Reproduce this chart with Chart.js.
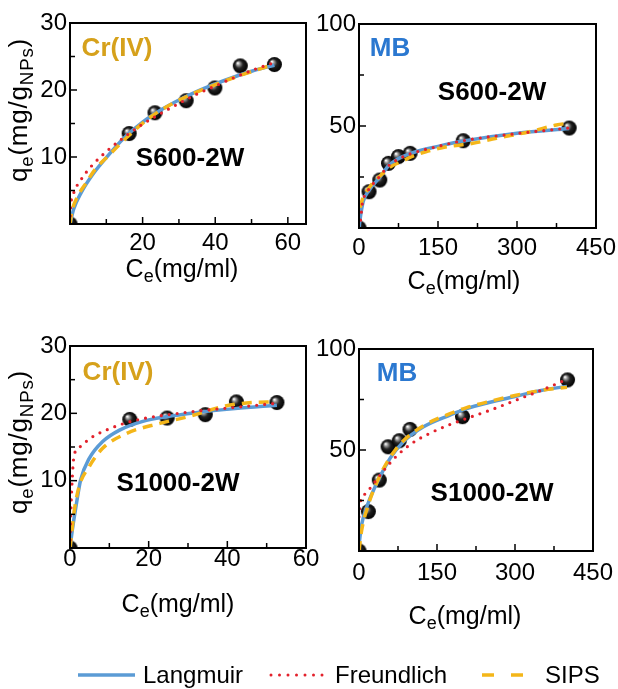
<!DOCTYPE html>
<html>
<head>
<meta charset="utf-8">
<script src="https://cdn.jsdelivr.net/npm/chart.js@4.4.1/dist/chart.umd.min.js"></script>
<style>
body{margin:0;width:618px;height:689px;background:#fff;position:relative;overflow:hidden;font-family:"Liberation Sans",Arial,sans-serif;}
canvas{position:absolute;left:0;top:0;}
.t{position:absolute;white-space:nowrap;color:#000;font-size:25px;line-height:1;transform:translate(-50%,-50%);}
.t sub{font-size:0.72em;vertical-align:-0.3em;line-height:0;}
.rot{transform:translate(-50%,-50%) rotate(-90deg);letter-spacing:0.8px;font-size:26px;}
.b{font-weight:bold;font-size:26px;}
.gold{color:#d6a11b;}
.mb{color:#2b78d0;}
.lg{position:absolute;font-size:24px;line-height:1;white-space:nowrap;transform:translateY(-50%);}
svg{position:absolute;left:0;top:0;}
</style>
</head>
<body>
<canvas id="c1" width="618" height="689"></canvas>
<canvas id="c2" width="618" height="689"></canvas>
<canvas id="c3" width="618" height="689"></canvas>
<canvas id="c4" width="618" height="689"></canvas>

<div class="t rot" style="left:18px;top:110px">q<sub>e</sub>(mg/g<sub>NPs</sub>)</div>
<div class="t rot" style="left:18px;top:442px">q<sub>e</sub>(mg/g<sub>NPs</sub>)</div>
<div class="t" style="left:182px;top:268px">C<sub>e</sub>(mg/ml)</div>
<div class="t" style="left:464px;top:280px">C<sub>e</sub>(mg/ml)</div>
<div class="t" style="left:178px;top:603px">C<sub>e</sub>(mg/ml)</div>
<div class="t" style="left:465px;top:615px">C<sub>e</sub>(mg/ml)</div>

<div class="t b gold" style="left:117px;top:47px">Cr(IV)</div>
<div class="t b" style="left:190px;top:157px">S600-2W</div>
<div class="t b mb" style="left:390px;top:47px">MB</div>
<div class="t b" style="left:492px;top:91px">S600-2W</div>
<div class="t b gold" style="left:118px;top:371px">Cr(IV)</div>
<div class="t b" style="left:178px;top:482px">S1000-2W</div>
<div class="t b mb" style="left:397px;top:372px">MB</div>
<div class="t b" style="left:492px;top:492px">S1000-2W</div>

<svg width="618" height="689">
  <line x1="78" y1="675" x2="135" y2="675" stroke="#5b9bd5" stroke-width="3.5"/>
  <line x1="271" y1="675" x2="323" y2="675" stroke="#e3212b" stroke-width="3" stroke-dasharray="0 8.5" stroke-linecap="round"/>
  <line x1="482" y1="675" x2="540" y2="675" stroke="#f4b619" stroke-width="3.5" stroke-dasharray="12 17"/>
</svg>
<div class="lg" style="left:143px;top:675px">Langmuir</div>
<div class="lg" style="left:335px;top:675px">Freundlich</div>
<div class="lg" style="left:545px;top:675px">SIPS</div>

<script>
// ---- Cr(IV), S600-2W ----
var crS600X = [0, 16.3, 23.4, 32.0, 39.9, 46.9, 56.3];
var crS600Y = [0, 13.5, 16.6, 18.4, 20.3, 23.6, 23.8];
var crS600LangX = [0, 1, 3, 6, 10, 15, 20, 25, 30, 35, 40, 45, 50, 56.3];
var crS600LangY = [0, 2.2, 4.6, 7.2, 9.9, 12.9, 15.2, 17.0, 18.5, 19.8, 20.9, 21.9, 22.8, 23.7];
var crS600FreuX = [0, 0.2, 1, 3, 6, 10, 15, 20, 25, 30, 35, 40, 45, 50, 56.3];
var crS600FreuY = [0, 2.6, 4.6, 6.6, 8.7, 10.8, 13.0, 14.9, 16.5, 18.0, 19.4, 20.6, 21.8, 22.9, 24.1];
var crS600SipsX = [0, 0.5, 2, 4.4, 7, 11, 16, 22, 28, 34, 40, 47, 56];
var crS600SipsY = [0, 1.8, 4.0, 6.1, 8.2, 10.4, 13.1, 15.9, 17.9, 19.5, 20.8, 22.2, 23.8];

// ---- MB, S600-2W ----
var mbS600X = [0, 19, 39.5, 56, 75, 97, 198, 399];
var mbS600Y = [0, 17.8, 23.5, 31.7, 35, 36.6, 42.8, 49];
var mbS600LangX = [0, 3, 8, 19, 40, 56, 75, 97, 150, 198, 300, 399];
var mbS600LangY = [0, 6, 13, 18.5, 25, 30.5, 34, 36.5, 40, 42.6, 46.5, 48.8];
var mbS600FreuX = [0, 3, 6.4, 16, 40, 56, 75, 97, 150, 198, 300, 399];
var mbS600FreuY = [0, 4, 12, 17.8, 25.5, 30.5, 33.8, 36.3, 40, 42.8, 46.3, 49];
var mbS600SipsX = [2, 6, 20, 40, 60, 80, 100, 127, 168, 216, 261, 324, 375, 395];
var mbS600SipsY = [10, 13.7, 20, 25.5, 30, 32.5, 35, 37.4, 39.9, 41.5, 44, 47.2, 50.5, 51.3];

// ---- Cr(IV), S1000-2W ----
var crS1000X = [0, 15.2, 24.7, 34.4, 42.3, 52.6];
var crS1000Y = [0, 19.1, 19.3, 19.8, 21.7, 21.6];
var crS1000LangX = [0, 0.6, 1.5, 2.7, 4.9, 8.3, 12.6, 18.5, 24.5, 32, 42, 52.6];
var crS1000LangY = [0, 2.7, 6.1, 10.1, 13.3, 15.8, 17.5, 18.8, 19.5, 20.1, 20.7, 21.2];
var crS1000FreuX = [0, 0.05, 0.2, 0.6, 1, 2.3, 5.7, 10, 14.3, 18.5, 25, 35, 44, 52.6];
var crS1000FreuY = [0, 2, 5.2, 10.6, 13.6, 14.9, 16.5, 17.7, 18.6, 19.2, 19.8, 20.5, 21, 21.5];
var crS1000SipsX = [0, 0.3, 1, 2.3, 4.9, 8.3, 14.3, 22.8, 30, 39.5, 46.2, 52];
var crS1000SipsY = [0, 1.5, 5.2, 9.1, 12.1, 14.8, 17, 18.5, 19.5, 21.1, 21.6, 21.7];

// ---- MB, S1000-2W ----
var mbS1000X = [0, 18, 39, 56, 77.5, 98, 199, 401];
var mbS1000Y = [0, 19.5, 35.1, 51.6, 54.6, 60.2, 66.5, 84.7];
var mbS1000LangX = [0, 5, 18, 37, 60, 85, 124, 175, 207, 250, 300, 350, 400];
var mbS1000LangY = [3, 13, 24, 35, 46, 54, 61.5, 67.3, 70.5, 73.5, 76.5, 79.5, 81.5];
var mbS1000FreuX = [0, 2, 13, 31, 48, 71, 100, 134, 169, 200, 250, 300, 350, 400];
var mbS1000FreuY = [17, 23.5, 28.5, 34.3, 40, 46.7, 53, 58, 62, 65, 69.5, 74.5, 79.5, 85];
var mbS1000SipsX = [0, 5, 18, 37, 60, 85, 124, 175, 207, 250, 300, 350, 400];
var mbS1000SipsY = [0, 10, 23, 35.5, 46.5, 54.5, 62, 68, 71, 74, 77, 79.5, 81];

var FONT = '"Liberation Sans", Arial, sans-serif';
var BLUE = '#5b9bd5', RED = '#e3212b', YELLOW = '#f4b619';
var W = 618, H = 689, YW = 60, XH = 50;

function pts(xs, ys) {
  return xs.map(function (x, i) { return {x: x, y: ys[i]}; });
}

function sphere(r) {
  var c = document.createElement('canvas');
  c.width = c.height = r * 2 + 2;
  var g = c.getContext('2d');
  var m = r + 1;
  var grad = g.createRadialGradient(m - r * 0.35, m - r * 0.4, r * 0.05, m, m, r);
  grad.addColorStop(0, '#ffffff');
  grad.addColorStop(0.2, '#9a9a9a');
  grad.addColorStop(0.5, '#222222');
  grad.addColorStop(1, '#000000');
  g.fillStyle = grad;
  g.beginPath();
  g.arc(m, m, r, 0, Math.PI * 2);
  g.fill();
  return c;
}
var ball = sphere(7.5);

// box round the plot and the small inward ticks
var framePlugin = {
  id: 'frame',
  afterDatasetsDraw: function (chart) {
    var a = chart.chartArea, ctx = chart.ctx;
    ctx.save();
    ctx.strokeStyle = '#000';
    ctx.lineWidth = 2;
    ctx.strokeRect(a.left, a.top, a.right - a.left, a.bottom - a.top);
    ctx.lineWidth = 1.5;
    var xs = chart.scales.x, ys = chart.scales.y;
    xs.ticks.forEach(function (t) {
      var p = xs.getPixelForValue(t.value);
      if (p <= a.left + 1 || p >= a.right - 1) return;
      var len = t.label !== '' ? 7 : 5;
      ctx.beginPath(); ctx.moveTo(p, a.bottom); ctx.lineTo(p, a.bottom - len); ctx.stroke();
    });
    ys.ticks.forEach(function (t) {
      var p = ys.getPixelForValue(t.value);
      if (p >= a.bottom - 1 || p <= a.top + 1) return;
      var len = t.label !== '' ? 7 : 5;
      ctx.beginPath(); ctx.moveTo(a.left, p); ctx.lineTo(a.left + len, p); ctx.stroke();
    });
    ctx.restore();
  }
};

function panel(id, o) {
  var datasets = [
    {data: pts(o.px, o.py), pointStyle: ball, pointRadius: 7.5, showLine: false, order: 4, clip: 0},
    {data: pts(o.lx, o.ly), showLine: true, borderColor: BLUE, borderWidth: 3.5, pointRadius: 0,
     cubicInterpolationMode: 'monotone', order: 3, clip: 0},
    {data: pts(o.sx, o.sy), showLine: true, borderColor: YELLOW, borderWidth: 3.5, pointRadius: 0,
     borderDash: [10, 7], cubicInterpolationMode: 'monotone', order: 2, clip: 0},
    {data: pts(o.fx, o.fy), showLine: true, borderColor: RED, borderWidth: 3.2, pointRadius: 0,
     borderDash: [0, 8], borderCapStyle: 'round', cubicInterpolationMode: 'monotone', order: 1, clip: 0}
  ];
  function lab(major, zero) {
    return function (v) {
      if (v === 0 && !zero) return '';
      return Math.abs(v % major) < 1e-6 ? String(v) : '';
    };
  }
  new Chart(document.getElementById(id), {
    type: 'scatter',
    data: {datasets: datasets},
    options: {
      responsive: false,
      animation: false,
      events: [],
      layout: {padding: {left: o.area[0] - YW, top: o.area[1], right: W - o.area[2], bottom: H - o.area[3] - XH}},
      plugins: {legend: {display: false}, tooltip: {enabled: false}},
      scales: {
        x: {
          type: 'linear', min: 0, max: o.xMax,
          grid: {display: false, drawTicks: false}, border: {display: false},
          ticks: {stepSize: o.xStep, includeBounds: false, autoSkip: false, maxRotation: 0,
                  padding: o.xPad, color: '#000', font: {size: 24, family: FONT}, callback: lab(o.xMajor, o.xZero)},
          afterFit: function (s) { s.height = XH; s.paddingLeft = 0; s.paddingRight = 0; }
        },
        y: {
          type: 'linear', min: 0, max: o.yMax,
          grid: {display: false, drawTicks: false}, border: {display: false},
          ticks: {stepSize: o.yStep, includeBounds: false, autoSkip: false,
                  padding: 3, color: '#000', font: {size: 24, family: FONT}, callback: lab(o.yMajor, false)},
          afterFit: function (s) { s.width = YW; s.paddingTop = 0; s.paddingBottom = 0; }
        }
      }
    },
    plugins: [framePlugin]
  });
}

panel('c1', {area: [70, 23, 306, 224], xMax: 65, xStep: 10, xMajor: 20, xZero: false, xPad: 5,
  yMax: 30, yStep: 5, yMajor: 10,
  px: crS600X, py: crS600Y, lx: crS600LangX, ly: crS600LangY,
  fx: crS600FreuX, fy: crS600FreuY, sx: crS600SipsX, sy: crS600SipsY});

panel('c2', {area: [359, 24, 596, 228], xMax: 450, xStep: 75, xMajor: 150, xZero: true, xPad: 6,
  yMax: 100, yStep: 25, yMajor: 50,
  px: mbS600X, py: mbS600Y, lx: mbS600LangX, ly: mbS600LangY,
  fx: mbS600FreuX, fy: mbS600FreuY, sx: mbS600SipsX, sy: mbS600SipsY});

panel('c3', {area: [70, 346, 306, 548], xMax: 60, xStep: 10, xMajor: 20, xZero: true, xPad: -3,
  yMax: 30, yStep: 5, yMajor: 10,
  px: crS1000X, py: crS1000Y, lx: crS1000LangX, ly: crS1000LangY,
  fx: crS1000FreuX, fy: crS1000FreuY, sx: crS1000SipsX, sy: crS1000SipsY});

panel('c4', {area: [359, 349, 593, 551], xMax: 450, xStep: 75, xMajor: 150, xZero: true, xPad: 8,
  yMax: 100, yStep: 25, yMajor: 50,
  px: mbS1000X, py: mbS1000Y, lx: mbS1000LangX, ly: mbS1000LangY,
  fx: mbS1000FreuX, fy: mbS1000FreuY, sx: mbS1000SipsX, sy: mbS1000SipsY});
</script>
</body>
</html>
